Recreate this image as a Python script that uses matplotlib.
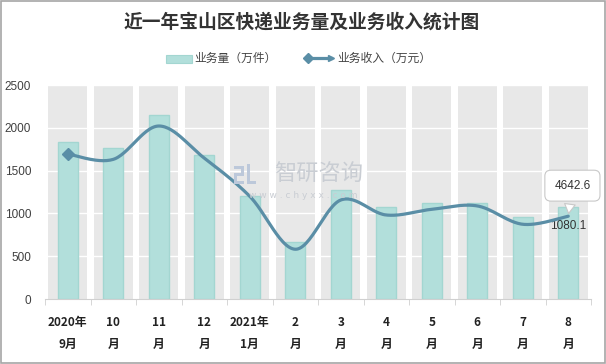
import numpy as np
import matplotlib
matplotlib.use("Agg")
import matplotlib.pyplot as plt
from matplotlib.lines import Line2D
from matplotlib.patches import Rectangle

plt.rcParams['font.family'] = ['Noto Sans CJK SC', 'DejaVu Sans']

categories = ["2020年\n9月", "10\n月", "11\n月", "12\n月", "2021年\n1月", "2\n月",
              "3\n月", "4\n月", "5\n月", "6\n月", "7\n月", "8\n月"]
volume = [1831, 1768, 2146, 1682, 1204, 662, 1273, 1071, 1118, 1118, 961, 1080.1]
revenue = [8130, 7830, 9700, 7900, 5760, 2790, 5550, 4710, 5030, 5220, 4190, 4642.6]
yticks = [0, 500, 1000, 1500, 2000, 2500]

title = "近一年宝山区快递业务量及业务收入统计图"
bar_label = "业务量（万件）"
line_label = "业务收入（万元）"

bar_color = "#b2dfdb"
bar_edge = "#a3d6d1"
line_color = "#5a8ea6"
band_color = "#e8e8e8"
wm_color = "#c9cdd3"

W, H = 606, 364
fig = plt.figure(figsize=(W/100, H/100), dpi=100)
ax = fig.add_axes([45/W, 65/H, 546/W, 214/H])
n = len(categories)
x = np.arange(n)

# grey category bands
ax.bar(x, [2500]*n, width=0.86, color=band_color, zorder=0)
for v in yticks[1:]:
    ax.axhline(v, color="white", lw=1.0, zorder=1)
ax.bar(x, volume, width=0.44, color=bar_color, edgecolor=bar_edge, lw=1.0, zorder=2)

ax.set_xlim(-0.5, n - 0.5)
ax.set_ylim(0, 2500)
ax.set_yticks(yticks)
ax.tick_params(axis='y', length=0, pad=10, labelsize=8.5, labelcolor="#404040")
for lab in ax.get_yticklabels():
    lab.set_family(['Liberation Sans', 'DejaVu Sans'])
ax.set_xticks(x)
ax.set_xticklabels(categories, fontsize=8.5, fontweight='bold', color="#222222", linespacing=1.9)
ax.tick_params(axis='x', length=0, pad=12)
ax.set_xticks(np.arange(-0.5, n, 1), minor=True)
ax.tick_params(axis='x', which='minor', length=4, color="#d0d0d0")
for s in ['top', 'right', 'left']:
    ax.spines[s].set_visible(False)
ax.spines['bottom'].set_color("#d0d0d0")

# watermark
fig.text(319/W, 1 - 174/H, "智研咨询", fontsize=16, color=wm_color, ha='center', va='center')
fig.text(303/W, 1 - 195/H, "w w w . c h y x x . c o m", fontsize=6.5, color=wm_color, ha='center', va='center',
         family=['DejaVu Sans'])
# simple logo blocks
for (lx, ly, lw_, lh) in [(234, 166, 10, 3), (241, 166, 3, 10), (234, 173, 10, 3), (234, 173, 3, 11),
                          (234, 181, 10, 3), (247, 164, 3, 20), (247, 181, 9, 3)]:
    fig.add_artist(Rectangle((lx/W, 1 - (ly + lh)/H), lw_/W, lh/H, transform=fig.transFigure,
                             color="#bcc8da", lw=0))

# smooth revenue line on hidden secondary axis
ax2 = ax.twinx()
ax2.set_ylim(0, 12000)
ax2.axis('off')
xs = np.array(x, float)
ys = np.array(revenue, float)
px, py = [], []
t = np.linspace(0, 1, 30)
for i in range(n - 1):
    p0 = np.array([xs[max(i-1, 0)], ys[max(i-1, 0)]])
    p1 = np.array([xs[i], ys[i]])
    p2 = np.array([xs[i+1], ys[i+1]])
    p3 = np.array([xs[min(i+2, n-1)], ys[min(i+2, n-1)]])
    c1 = p1 + (p2 - p0) / 6
    c2 = p2 - (p3 - p1) / 6
    b = ((1-t)**3)[:, None]*p1 + (3*(1-t)**2*t)[:, None]*c1 + (3*(1-t)*t**2)[:, None]*c2 + (t**3)[:, None]*p2
    px.extend(b[:, 0]); py.extend(b[:, 1])
ax2.plot(px, py, color=line_color, lw=2.3, solid_capstyle='round', zorder=3)
ax2.plot(xs[:1], ys[:1], marker='D', ms=6, color=line_color, zorder=4)

# labels
ax.annotate(f"{volume[-1]:.1f}", xy=(x[-1], volume[-1]), xytext=(0, -14), textcoords='offset points',
            ha='center', va='center', fontsize=8.5, color="#333333", family=['Liberation Sans', 'DejaVu Sans'], zorder=5)
ax2.annotate(f"{revenue[-1]:.1f}", xy=(x[-1], revenue[-1]), xytext=(3, 22), textcoords='offset points',
             ha='center', va='center', fontsize=8.5, color="#333333", family=['Liberation Sans', 'DejaVu Sans'],
             bbox=dict(boxstyle="round,pad=0.8,rounding_size=0.5", fc="white", ec="#c8c8c8", lw=0.8),
             arrowprops=dict(arrowstyle="wedge,tail_width=0.9,shrink_factor=0.5", fc="white", ec="#c8c8c8", lw=0.8),
             zorder=6)

fig.text(0.498, 1 - 22/H, title, fontsize=13.5, fontweight='bold', color="#333333", ha='center', va='center')

# manual legend
fig.add_artist(Rectangle((166/W, 1 - 63/H), 26/W, 8/H, transform=fig.transFigure,
                         fc=bar_color, ec=bar_edge, lw=0.8))
fig.text(194/W, 1 - 58/H, bar_label, fontsize=8.5, color="#444444", ha='left', va='center')
fig.add_artist(Line2D([307/W, 331/W], [1 - 58/H, 1 - 58/H], transform=fig.transFigure,
                      color=line_color, lw=2.3))
fig.add_artist(Line2D([308/W], [1 - 58/H], transform=fig.transFigure, marker='D', ms=5,
                      color=line_color, lw=0))
fig.add_artist(Line2D([331/W], [1 - 58/H], transform=fig.transFigure, marker='>', ms=5,
                      color=line_color, lw=0))
fig.text(337/W, 1 - 58/H, line_label, fontsize=8.5, color="#444444", ha='left', va='center')

fig.add_artist(Rectangle((0.001, 0.002), 0.997, 0.995, transform=fig.transFigure, fill=False,
                         ec="#a6a6a6", lw=1.2))

fig.savefig("out.png", dpi=100)
